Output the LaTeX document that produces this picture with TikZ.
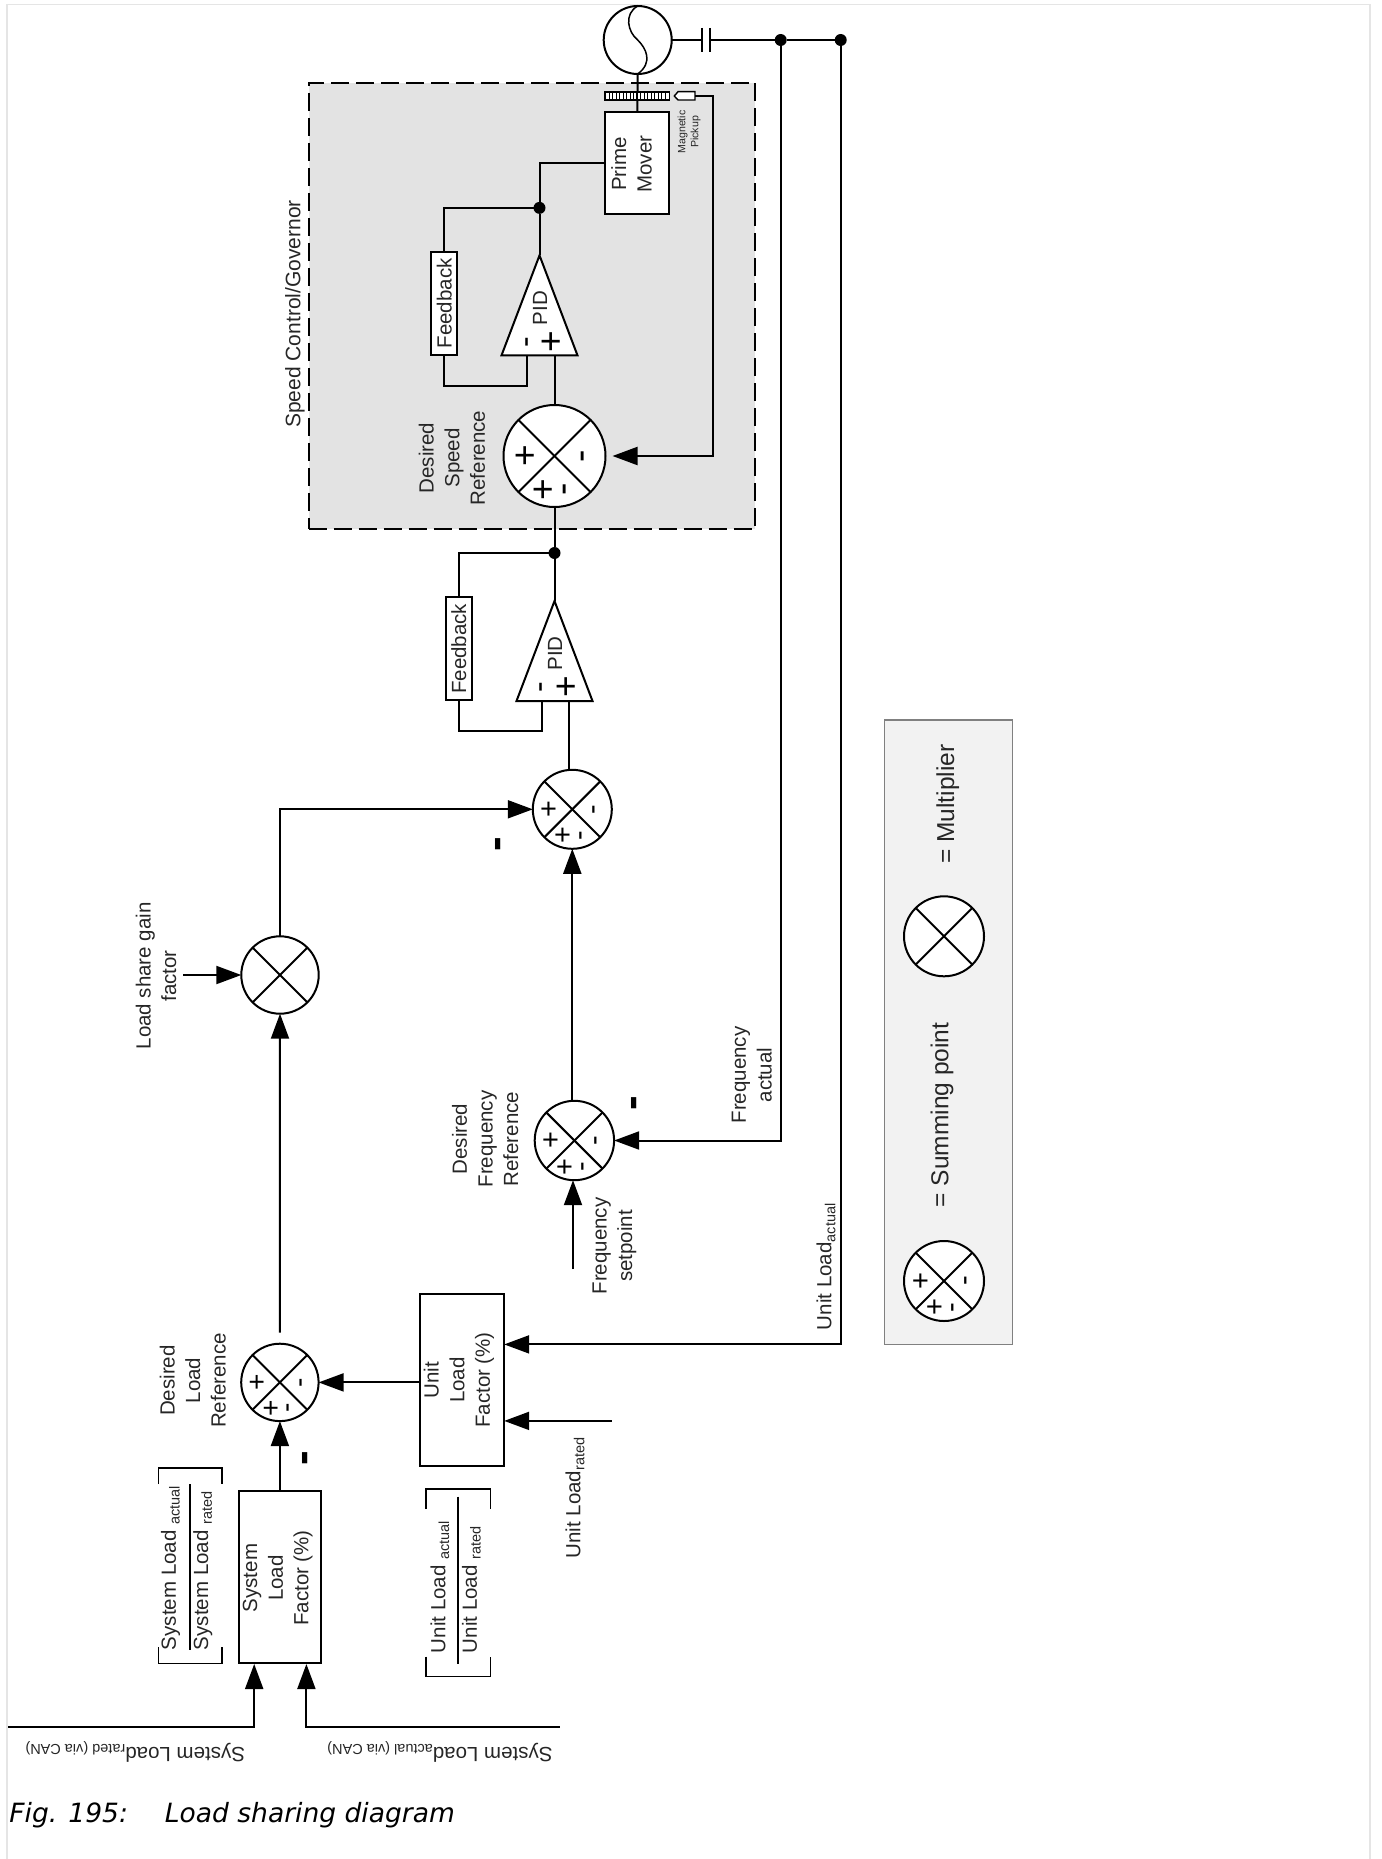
\documentclass[tikz,border=0pt]{standalone}
\usepackage{fontspec}
\setmainfont{Liberation Sans}
\newfontfamily\capfont{DejaVu Sans}
\usetikzlibrary{arrows.meta,shapes.geometric}
\newcommand{\lowtext}[1]{\raisebox{-0.35ex}{\fontsize{14.5}{14.5}\selectfont #1}}
\newcommand{\minusmark}{\smash{\raisebox{-.275em}{-}}}
\begin{document}
\begin{tikzpicture}[
  x=1pt, y=-1pt,
  line width=2pt,
  lbl/.style={
    rotate=90,
    align=center,
    inner sep=0pt,
    text=black!85,
    font=\fontsize{20.5}{25.6}\selectfont
  },
  tiny/.style={lbl, font=\fontsize{10.6}{13}\selectfont},
  blk/.style={draw, fill=white, inner sep=0pt, outer sep=0pt},
  dot/.style={circle, fill=black, minimum size=12pt, inner sep=0pt, outer sep=0pt},
  arrow/.style={-{Triangle[length=25pt,width=18pt]}},
  mark/.style={rotate=90, inner sep=0pt, scale=#1/44, font=\fontsize{32}{32}\selectfont},
  bigminus/.style={rotate=90, inner sep=0pt, font=\bfseries\fontsize{44}{44}\selectfont},
  multpt/.style={
    circle, draw, fill=white, inner sep=0pt, outer sep=0pt,
    minimum size=2*#1,
    path picture={
      \draw (path picture bounding box.north west) -- (path picture bounding box.south east);
      \draw (path picture bounding box.north east) -- (path picture bounding box.south west);
    }
  },
  sumpt/.style={
    circle, draw, fill=white, inner sep=0pt, outer sep=0pt,
    minimum size=2*#1,
    path picture={
      \draw (path picture bounding box.north west) -- (path picture bounding box.south east);
      \draw (path picture bounding box.north east) -- (path picture bounding box.south west);
      \node[mark=#1] at ([shift={(-.55*#1,0)}]path picture bounding box.center) {+};
      \node[mark=#1] at ([shift={(.54*#1,0)}]path picture bounding box.center) {\minusmark};
      \node[mark=#1] at ([shift={(-.2*#1,.66*#1)}]path picture bounding box.center) {+};
      \node[mark=#1] at ([shift={(.2*#1,.66*#1)}]path picture bounding box.center) {\minusmark};
    }
  },
  pidtri/.style={
    isosceles triangle, isosceles triangle stretches, draw, fill=white,
    rotate=90, anchor=apex, inner sep=0pt, outer sep=0pt,
    minimum width=76pt, minimum height=100pt
  }
]
\useasboundingbox (0,0) rectangle (1381,1859);

% page frame
\draw[line width=1.5pt, black!10] (7,1859) -- (7,4.5) -- (1370,4.5) -- (1370,1859);

% shaded areas
\node[draw, fill=black!11, dash pattern=on 18pt off 7pt, inner sep=0pt, minimum width=446.6pt, minimum height=446.6pt] (governor) at (532,306) {};
\node[draw=black!50, line width=1.2pt, fill=black!5, inner sep=0pt, minimum width=127.7pt, minimum height=624.8pt] (legend) at (948.5,1032.4) {};
\node[lbl, font=\fontsize{21}{26}\selectfont] (governorTxt) at (295,314) {Speed Control/Governor};

% generator and prime mover
\node[circle, draw, fill=white, minimum size=68pt, inner sep=0pt, outer sep=0pt] (gen) at (637.7,40) {};
\draw[line width=1.5pt] (gen.north) .. controls +(-14,8) and +(-10,-8) .. (gen.center) .. controls +(8,8) and +(16,-12) .. (gen.south);
\coordinate (capA) at (702.3,40);
\coordinate (capB) at (710,40);
\node[dot] (jFreq) at (780.7,40) {};
\node[dot] (jUnit) at (840.7,40) {};
\draw (gen) -- (capA);
\draw (capA) +(0,-12) -- +(0,12);
\draw (capB) +(0,-12) -- +(0,12);
\draw (capB) -- (jFreq);
\draw (jFreq) -- (jUnit);

\node[blk, minimum width=64.3pt, minimum height=102pt] (prime) at (637.3,163.3) {};
\node[lbl] (primeTxt) at (631.5,164) {Prime\\Mover};
\draw (gen.south) -- (prime.north);
\node[blk, line width=1.4pt, minimum width=64.3pt, minimum height=8.3pt] (gear) at (637.3,96) {};
\foreach \tooth in {0,...,16} {
  \draw[line width=1.2pt] (609.3+3.5*\tooth,92) -- (609.3+3.5*\tooth,100);
}
\draw (gear.north) -- (gear.south);
\draw[line width=1.4pt, fill=white] (674.3,96) -- (678,91.7) -- (695,91.7) -- (695,100) -- (678,100) -- cycle;
\coordinate (pickup) at (695,96);
\coordinate (pickTurn) at (713.3,96);
\node[tiny] (pickupTxt) at (689,132) {Magnetic\\Pickup};

% speed control loop
\node[dot] (jS) at (539.5,207.9) {};
\node[pidtri] (pidS) at (539.5,255.4) {};
\node[lbl] (pidSTxt) at (540,308) {PID};
\node[mark=51] (pidSplusTxt) at (552.9,341.8) {+};
\node[mark=44] (pidSminusTxt) at (526.5,341.8) {\minusmark};
\coordinate (pidSplus) at (554.5,355.7);
\coordinate (pidSminus) at (527.2,355.7);
\node[blk, minimum width=26pt, minimum height=102pt] (fbS) at (444.2,303.5) {};
\node[lbl] (fbSTxt) at (fbS) {Feedback};
\node[sumpt=51] (sumS) at (554.5,456) {};
\node[lbl] (speedTxt) at (452,458) {Desired\\Speed\\Reference};

\draw (prime.west) -| (jS.north);
\draw (jS) -- (pidS.apex);
\draw (jS) -| (fbS.north);
\draw (fbS.south) -- ++(0,31.4) -| (pidSminus);
\draw (sumS.north) -- (pidSplus);
\draw[arrow, shorten >=7pt] (pickup) -- (pickTurn) |- (sumS.east);

% frequency loop
\node[dot] (jC) at (554.5,553) {};
\node[pidtri] (pidC) at (554.5,601) {};
\node[lbl] (pidCTxt) at (555,653.3) {PID};
\node[mark=51] (pidCplusTxt) at (567.7,686.7) {+};
\node[mark=44] (pidCminusTxt) at (541,686.7) {\minusmark};
\coordinate (pidCplus) at (569,701);
\coordinate (pidCminus) at (541.7,701);
\node[blk, minimum width=26.3pt, minimum height=103pt] (fbC) at (458.85,648.8) {};
\node[lbl] (fbCTxt) at (fbC) {Feedback};
\node[sumpt=39.5] (sumU) at (572.3,809.3) {};
\node[bigminus] (minusU) at (497.7,844.4) {\minusmark};
\node[sumpt=39.7] (sumF) at (574.4,1140.5) {};
\node[bigminus] (minusF) at (633.5,1103.3) {\minusmark};
\node[lbl] (freqTxt) at (485.2,1139) {Desired\\Frequency\\Reference};
\node[lbl] (fsetTxt) at (614.5,1246) {Frequency\\setpoint};
\node[lbl] (factTxt) at (751.8,1075) {Frequency\\actual};
\coordinate (fsetIn) at (573,1269);

\draw (sumS.south) -- (jC);
\draw (jC) -- (pidC.apex);
\draw (jC) -| (fbC.north);
\draw (fbC.south) -- ++(0,31) -| (pidCminus);
\draw (pidCplus) -- (pidCplus |- sumU.north);
\draw[arrow] (sumU.south |- sumF.north) -- (sumU.south);
\draw[arrow] (fsetIn) -- (fsetIn |- sumF.south);
\draw[arrow] (jFreq) |- (sumF.east);

% load share path
\node[multpt=38.7] (mult) at (280,975) {};
\node[lbl] (gainTxt) at (156,975.8) {Load share gain\\factor};
\coordinate (gainIn) at (183.3,975);
\node[sumpt=38.7] (sumL) at (279.9,1382.4) {};
\node[lbl] (loadTxt) at (192.8,1380.5) {Desired\\Load\\Reference};
\coordinate (loadOut) at (279.9,1332.7);
\node[bigminus] (minusL) at (303.9,1457.8) {\minusmark};

\draw[arrow] (gainIn) -- (mult.west);
\draw[arrow] (loadOut) -- (mult.south);
\draw[arrow] (mult.north) |- (sumU.west);

% unit load
\node[blk, minimum width=84.6pt, minimum height=172pt] (unitBox) at (461.9,1379.5) {};
\node[lbl] (unitTxt) at (459,1380) {Unit\\Load\\Factor (\%)};
\coordinate (uIn1) at (504.2,1344.4);
\coordinate (uIn2) at (504.2,1420.9);
\coordinate (ratedIn) at (611.5,1420.9);
\node[lbl, anchor=west] (uRatedTxt) at (575,1559.5) {Unit Load\lowtext{rated}};
\node[lbl, anchor=west] (uActualTxt) at (826,1331) {Unit Load\lowtext{actual}};

\draw[arrow] (jUnit) |- (uIn1);
\draw[arrow] (ratedIn) -- (uIn2);
\draw[arrow] (unitBox.west |- sumL.east) -- (sumL.east);

\node[lbl, anchor=west] (uNum) at (439.8,1654) {Unit Load \lowtext{actual}};
\node[lbl, anchor=west] (uDen) at (471.4,1654) {Unit Load \lowtext{rated}};
\draw (457.9,1496.6) -- (457.9,1663.6);
\draw[line width=1.5pt] (426,1509) |- (490.3,1489.2) -- (490.3,1509);
\draw[line width=1.5pt] (426,1656.6) |- (490.3,1676.4) -- (490.3,1656.6);

% system load
\node[blk, minimum width=82.5pt, minimum height=172pt] (sysBox) at (279.9,1576.8) {};
\node[lbl] (sysTxt) at (277.8,1578) {System\\Load\\Factor (\%)};
\coordinate (sIn1) at (254.2,1664);
\coordinate (sIn2) at (306.4,1664);
\coordinate (wireL) at (8.4,1726.5);
\coordinate (wireR) at (559.8,1726.5);
\node[lbl, anchor=west] (sNum) at (170.5,1651) {System Load \lowtext{actual}};
\node[lbl, anchor=west] (sDen) at (202.9,1651) {System Load \lowtext{rated}};
\draw (190.2,1484.2) -- (190.2,1650);
\draw[line width=1.5pt] (158.7,1484.2) |- (222.2,1468) -- (222.2,1484.2);
\draw[line width=1.5pt] (158.7,1647) |- (222.2,1663.6) -- (222.2,1647);
\node[lbl, rotate=90, anchor=west] (sRatedTxt) at (246,1752) {System Load\lowtext{rated (via CAN)}};
\node[lbl, rotate=90, anchor=west] (sActualTxt) at (553.5,1752) {System Load\lowtext{actual (via CAN)}};

\draw[arrow] (sysBox.north) -- (sumL.south);
\draw[arrow] (wireL) -| (sIn1);
\draw[arrow] (wireR) -| (sIn2);

% legend contents
\node[sumpt=40] (legSum) at (944,1281) {};
\node[multpt=40] (legMult) at (944,936.3) {};
\node[lbl, font=\fontsize{24.5}{30}\selectfont] (legSumTxt) at (942,1115) {= Summing point};
\node[lbl, font=\fontsize{24.5}{30}\selectfont] (legMultTxt) at (947.9,804) {= Multiplier};

% caption
\node[anchor=base west, inner sep=0pt, font=\capfont\itshape\fontsize{26.5}{32}\selectfont] (caption) at (8.4,1822) {Fig. 195:\hspace{37pt}Load sharing diagram};
\end{tikzpicture}
\end{document}
